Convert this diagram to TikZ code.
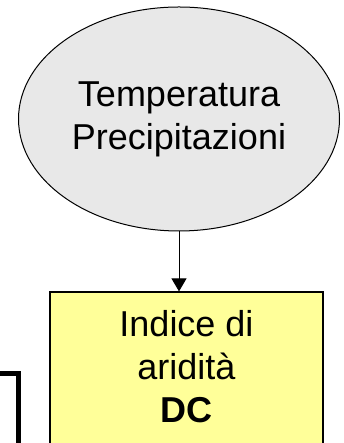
\documentclass[tikz,border=0pt]{standalone}
\usepackage{fontspec}
\setmainfont{Liberation Sans}
\usetikzlibrary{shapes.geometric,arrows.meta}
\definecolor{ellgray}{HTML}{E8E8E8}
\definecolor{boxyellow}{HTML}{FFFF99}
\begin{document}
\begin{tikzpicture}[x=1pt,y=1pt,
	bigtext/.style={font=\fontsize{36pt}{43pt}\selectfont,align=center,inner sep=0pt}]
			\useasboundingbox (0,0) rectangle (344,443);
			\node[ellipse,draw,line width=1pt,fill=ellgray,minimum width=321pt,minimum height=224pt,bigtext] (clima) at (179,324) {Temperatura\\Precipitazioni};
			\node[rectangle,draw,line width=1.2pt,fill=boxyellow,minimum width=273pt,minimum height=171pt,inner sep=0pt] (indice) at (186.5,65.5) {};
			\node[bigtext] (dc) at (186.5,76) {Indice di\\aridità\\\textbf{DC}};
			\draw[-{Triangle[length=13pt,width=15pt]},line width=1pt] (clima.south) -- (clima.south |- indice.north);
			\draw[line width=5pt] (-10,69) -| (18.5,-10);
\end{tikzpicture}
\end{document}
